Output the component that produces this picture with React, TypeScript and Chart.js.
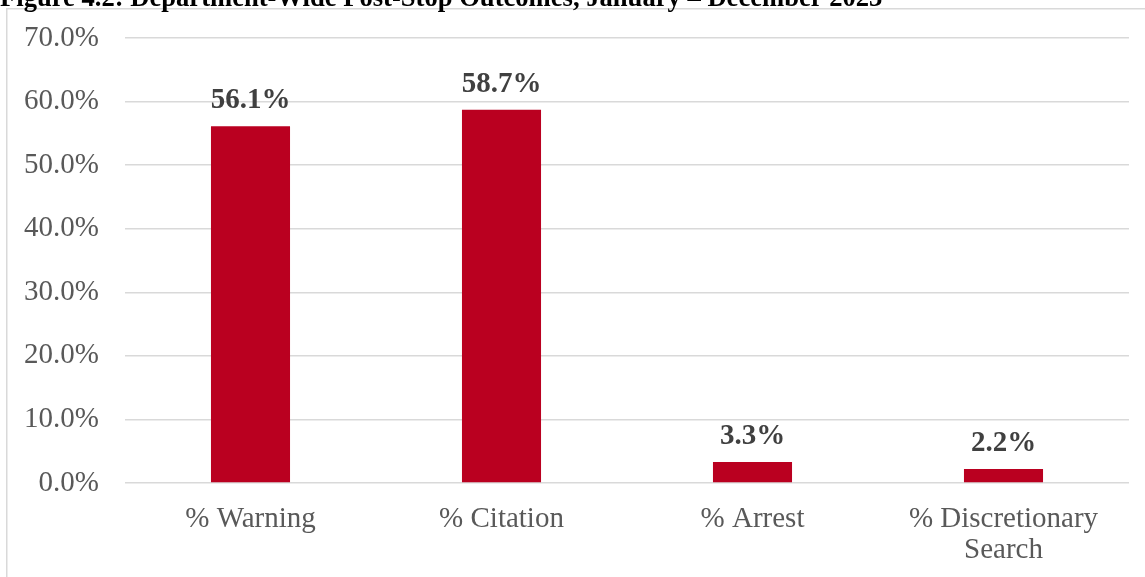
import React, { useEffect, useRef } from "react";
import { Chart, registerables } from "chart.js";

Chart.register(...registerables);

const titleText = "Figure 4.2: Department-Wide Post-Stop Outcomes, January – December 2023";
const categories: (string | string[])[] = ["% Warning", "% Citation", "% Arrest", ["% Discretionary", "Search"]];
const values = [56.1, 58.7, 3.3, 2.2];
const yTicks = [0, 10, 20, 30, 40, 50, 60, 70];

const SERIF = "'Liberation Serif', 'Times New Roman', serif";

export default function App() {
  const ref = useRef<HTMLCanvasElement | null>(null);

  useEffect(() => {
    if (!ref.current) return;
    const framePlugin = {
      id: "frame",
      beforeDraw(chart: any) {
        const ctx = chart.ctx;
        ctx.save();
        ctx.fillStyle = "#ffffff";
        ctx.fillRect(0, 0, chart.width, chart.height);
        ctx.strokeStyle = "#d9d9d9";
        ctx.lineWidth = 1.5;
        ctx.beginPath();
        ctx.moveTo(6.75, chart.height);
        ctx.lineTo(6.75, 8.75);
        ctx.lineTo(chart.width, 8.75);
        ctx.stroke();
        ctx.fillStyle = "#000000";
        ctx.font = `bold 26.6px ${SERIF}`;
        ctx.textAlign = "left";
        ctx.textBaseline = "alphabetic";
        ctx.fillText(titleText, 0, 6);
        ctx.restore();
      },
      afterDatasetsDraw(chart: any) {
        const ctx = chart.ctx;
        const meta = chart.getDatasetMeta(0);
        ctx.save();
        ctx.fillStyle = "#404040";
        ctx.font = `bold 29px ${SERIF}`;
        ctx.textAlign = "center";
        ctx.textBaseline = "alphabetic";
        meta.data.forEach((bar: any, i: number) => {
          ctx.fillText(values[i].toFixed(1) + "%", bar.x, bar.y - 18);
        });
        ctx.restore();
      },
    };

    const chart = new Chart(ref.current, {
      type: "bar",
      data: {
        labels: categories,
        datasets: [
          {
            data: values,
            backgroundColor: "#BA0020",
            barPercentage: 0.315,
            categoryPercentage: 1,
          },
        ],
      },
      options: {
        animation: false,
        responsive: false,
        layout: { padding: { top: 38, right: 16, left: 0, bottom: 0 } },
        plugins: {
          legend: { display: false },
          tooltip: { enabled: false },
          title: { display: false },
        },
        scales: {
          x: {
            grid: { display: false },
            border: { display: false },
            ticks: {
              color: "#595959",
              font: { family: SERIF, size: 29, lineHeight: 1.07 },
              padding: 13,
              maxRotation: 0,
              autoSkip: false,
            },
            afterFit(scale: any) {
              scale.height = 94;
              scale.paddingLeft = 0;
              scale.paddingRight = 0;
            },
          },
          y: {
            min: 0,
            max: 70,
            afterBuildTicks(scale: any) {
              scale.ticks = yTicks.map((v) => ({ value: v }));
            },
            grid: { color: "#d9d9d9", lineWidth: 1.5, drawTicks: false },
            border: { display: false },
            ticks: {
              color: "#595959",
              font: { family: SERIF, size: 29 },
              padding: 26,
              callback: (v: any) => Number(v).toFixed(1) + "%",
            },
            afterFit(scale: any) {
              scale.width = 125;
              scale.paddingTop = 0;
              scale.paddingBottom = 0;
            },
          },
        },
      },
      plugins: [framePlugin],
    });
    return () => chart.destroy();
  }, []);

  return (
    <div style={{ position: "fixed", left: 0, top: 0, width: 1145, height: 577, background: "#fff" }}>
      <canvas ref={ref} width={1145} height={577} style={{ display: "block" }} />
    </div>
  );
}
